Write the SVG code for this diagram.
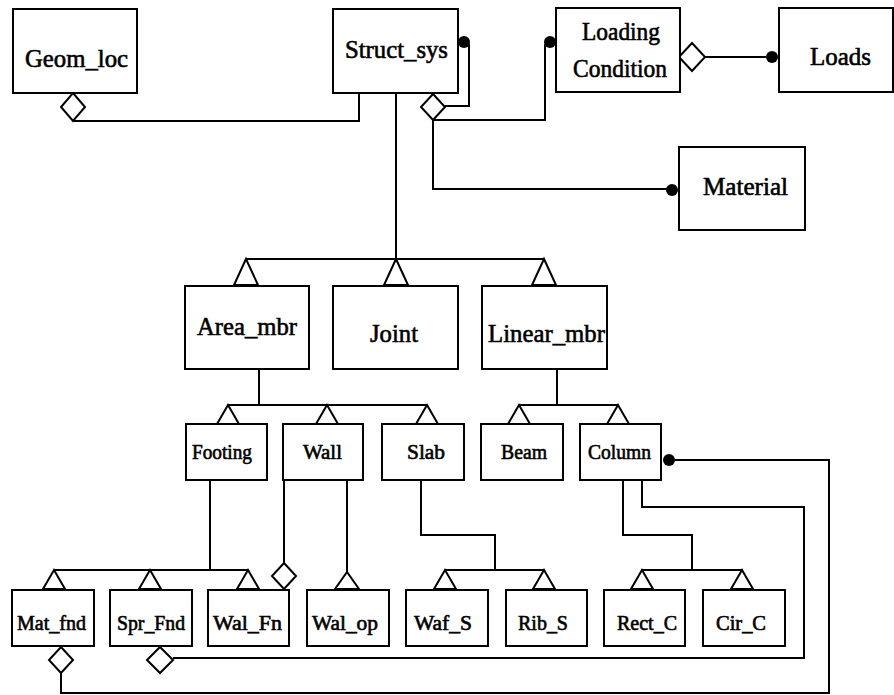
<svg xmlns="http://www.w3.org/2000/svg" width="894" height="695" viewBox="0 0 894 695">
<style>
.box{fill:#fff;stroke:#000;stroke-width:2}
.ln{fill:none;stroke:#000;stroke-width:2}
.tri{fill:#fff;stroke:#000;stroke-width:2;stroke-linejoin:miter}
.dia{fill:#fff;stroke:#000;stroke-width:2}
.dot{fill:#000}
.t{fill:#000;stroke:#000;stroke-width:0.6;font-family:"Liberation Serif","Times New Roman",serif}
.big{font-size:25px}
.sm{font-size:20px}
</style>
<rect width="894" height="695" fill="#fff"/>
<g id="connectors">
<path class="ln" d="M73,121 H359 V93"/>
<path class="ln" d="M396,93 V259 M246,259 H544"/>
<path class="ln" d="M469,44 V106 H445"/>
<path class="ln" d="M433,120 H545 V44"/>
<path class="ln" d="M433,120 V189 H667"/>
<path class="ln" d="M705,57 H767"/>
<path class="ln" d="M259,369 V405 M228,405 H427"/>
<path class="ln" d="M557,369 V405 M519,405 H618"/>
<path class="ln" d="M210,480 V570 M54,570 H248"/>
<path class="ln" d="M284,480 V563"/>
<path class="ln" d="M347,480 V572"/>
<path class="ln" d="M421,480 V535 H495 V570 M445,570 H544"/>
<path class="ln" d="M623,480 V535 H692 V570 M642,570 H742"/>
<path class="ln" d="M642,480 V507 H804 V658 H173"/>
<path class="ln" d="M675,460 H829 V693 H61 V673"/>
<g id="triangles">
<path class="tri" d="M246,259 L234,285 H258 Z"/>
<path class="tri" d="M396,259 L384,285 H408 Z"/>
<path class="tri" d="M544,259 L532,285 H556 Z"/>
<path class="tri" d="M228,405 L217,424 H239 Z"/>
<path class="tri" d="M327,405 L316,424 H338 Z"/>
<path class="tri" d="M427,405 L416,424 H438 Z"/>
<path class="tri" d="M519,405 L508,424 H530 Z"/>
<path class="tri" d="M618,405 L607,424 H629 Z"/>
<path class="tri" d="M54,570 L43,589 H65 Z"/>
<path class="tri" d="M150,570 L139,589 H161 Z"/>
<path class="tri" d="M248,570 L237,589 H259 Z"/>
<path class="tri" d="M347,572 L335,589 H359 Z"/>
<path class="tri" d="M445,570 L434,589 H456 Z"/>
<path class="tri" d="M544,570 L533,589 H555 Z"/>
<path class="tri" d="M642,570 L631,589 H653 Z"/>
<path class="tri" d="M742,570 L731,589 H753 Z"/>
</g>
<g id="diamonds">
<path class="dia" d="M73,93 L85,107 L73,121 L61,107 Z"/>
<path class="dia" d="M433,94 L445,107 L433,120 L421,107 Z"/>
<path class="dia" d="M692,43 L705,57 L692,71 L679,57 Z"/>
<path class="dia" d="M284,563 L296,576 L284,589 L272,576 Z"/>
<path class="dia" d="M61,647 L73,660 L61,673 L49,660 Z"/>
<path class="dia" d="M160,647 L173,660 L160,673 L147,660 Z"/>
</g>
<g id="dots">
<circle class="dot" cx="464" cy="42" r="6"/>
<circle class="dot" cx="550" cy="42" r="6"/>
<circle class="dot" cx="772" cy="57" r="6"/>
<circle class="dot" cx="672" cy="190" r="6"/>
<circle class="dot" cx="669" cy="460" r="6"/>
</g>
</g>
<g id="Geom_loc"><rect class="box" x="13" y="9" width="124" height="84"/><text class="t big" x="25" y="67" textLength="103" lengthAdjust="spacingAndGlyphs">Geom_loc</text></g>
<g id="Struct_sys"><rect class="box" x="333" y="9" width="125" height="84"/><text class="t big" x="345" y="58" textLength="103" lengthAdjust="spacingAndGlyphs">Struct_sys</text></g>
<g id="Loading_Condition"><rect class="box" x="556" y="8" width="124" height="84"/><text class="t big" x="582" y="40" textLength="78" lengthAdjust="spacingAndGlyphs">Loading</text><text class="t big" x="573" y="77" textLength="94" lengthAdjust="spacingAndGlyphs">Condition</text></g>
<g id="Loads"><rect class="box" x="779" y="8" width="114" height="84"/><text class="t big" x="810" y="65" textLength="61" lengthAdjust="spacingAndGlyphs">Loads</text></g>
<g id="Material"><rect class="box" x="679" y="147" width="126" height="83"/><text class="t big" x="703" y="195" textLength="85" lengthAdjust="spacingAndGlyphs">Material</text></g>
<g id="Area_mbr"><rect class="box" x="185" y="286" width="124" height="83"/><text class="t big" x="197" y="335" textLength="100" lengthAdjust="spacingAndGlyphs">Area_mbr</text></g>
<g id="Joint"><rect class="box" x="333" y="286" width="125" height="83"/><text class="t big" x="370" y="342" textLength="48" lengthAdjust="spacingAndGlyphs">Joint</text></g>
<g id="Linear_mbr"><rect class="box" x="482" y="286" width="125" height="83"/><text class="t big" x="488" y="342" textLength="117" lengthAdjust="spacingAndGlyphs">Linear_mbr</text></g>
<g id="Footing"><rect class="box" x="186" y="424" width="81" height="56"/><text class="t sm" x="192" y="459" textLength="60" lengthAdjust="spacingAndGlyphs">Footing</text></g>
<g id="Wall"><rect class="box" x="283" y="424" width="80" height="56"/><text class="t sm" x="303" y="459" textLength="39" lengthAdjust="spacingAndGlyphs">Wall</text></g>
<g id="Slab"><rect class="box" x="382" y="424" width="82" height="56"/><text class="t sm" x="407" y="459" textLength="38" lengthAdjust="spacingAndGlyphs">Slab</text></g>
<g id="Beam"><rect class="box" x="481" y="424" width="82" height="56"/><text class="t sm" x="501" y="459" textLength="46" lengthAdjust="spacingAndGlyphs">Beam</text></g>
<g id="Column"><rect class="box" x="580" y="424" width="81" height="56"/><text class="t sm" x="588" y="459" textLength="63" lengthAdjust="spacingAndGlyphs">Column</text></g>
<g id="Mat_fnd"><rect class="box" x="12" y="590" width="82" height="56"/><text class="t sm" x="17" y="630" textLength="69" lengthAdjust="spacingAndGlyphs">Mat_fnd</text></g>
<g id="Spr_Fnd"><rect class="box" x="110" y="590" width="82" height="56"/><text class="t sm" x="117" y="630" textLength="68" lengthAdjust="spacingAndGlyphs">Spr_Fnd</text></g>
<g id="Wal_Fn"><rect class="box" x="208" y="590" width="81" height="56"/><text class="t sm" x="213" y="630" textLength="69" lengthAdjust="spacingAndGlyphs">Wal_Fn</text></g>
<g id="Wal_op"><rect class="box" x="307" y="590" width="82" height="56"/><text class="t sm" x="312" y="630" textLength="66" lengthAdjust="spacingAndGlyphs">Wal_op</text></g>
<g id="Waf_S"><rect class="box" x="406" y="590" width="82" height="56"/><text class="t sm" x="414" y="630" textLength="58" lengthAdjust="spacingAndGlyphs">Waf_S</text></g>
<g id="Rib_S"><rect class="box" x="506" y="590" width="81" height="56"/><text class="t sm" x="518" y="630" textLength="50" lengthAdjust="spacingAndGlyphs">Rib_S</text></g>
<g id="Rect_C"><rect class="box" x="604" y="590" width="81" height="56"/><text class="t sm" x="617" y="630" textLength="60" lengthAdjust="spacingAndGlyphs">Rect_C</text></g>
<g id="Cir_C"><rect class="box" x="703" y="590" width="82" height="56"/><text class="t sm" x="716" y="630" textLength="50" lengthAdjust="spacingAndGlyphs">Cir_C</text></g>
</svg>
